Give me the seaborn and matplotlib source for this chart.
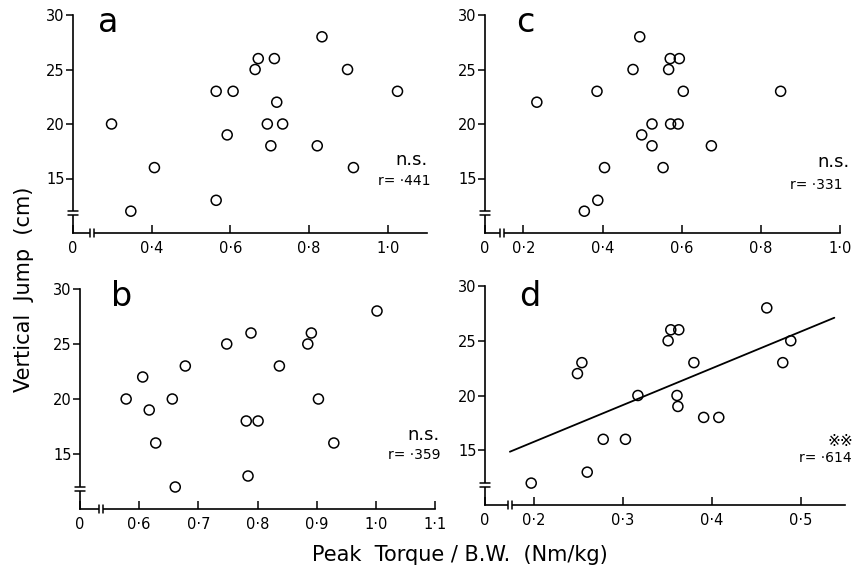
import numpy as np
import pandas as pd
import matplotlib
matplotlib.use("Agg")
import matplotlib.pyplot as plt
import seaborn as sns

# ---- data: peak torque per body weight (Nm/kg) vs vertical jump (cm) ----
a_torque = [0.298, 0.347, 0.407, 0.564, 0.564, 0.607, 0.592, 0.663, 0.671, 0.712,
            0.718, 0.694, 0.733, 0.703, 0.833, 0.821, 0.898, 0.913, 1.025]
a_jump = [20, 12, 16, 13, 23, 23, 19, 25, 26, 26, 22, 20, 20, 18, 28, 18, 25, 16, 23]

b_torque = [0.578, 0.606, 0.617, 0.628, 0.656, 0.661, 0.678, 0.748, 0.789, 0.781,
            0.801, 0.784, 0.837, 0.885, 0.891, 0.903, 0.929, 1.002]
b_jump = [20, 22, 19, 16, 20, 12, 23, 25, 26, 18, 18, 13, 23, 25, 26, 20, 16, 28]

c_torque = [0.234, 0.386, 0.354, 0.388, 0.405, 0.477, 0.494, 0.499, 0.525, 0.525,
            0.553, 0.567, 0.571, 0.594, 0.604, 0.572, 0.591, 0.675, 0.850]
c_jump = [22, 23, 12, 13, 16, 25, 28, 19, 20, 18, 16, 25, 26, 26, 23, 20, 20, 18, 23]

d_torque = [0.197, 0.249, 0.254, 0.260, 0.278, 0.303, 0.317, 0.351, 0.354, 0.363,
            0.361, 0.362, 0.380, 0.391, 0.408, 0.462, 0.480, 0.489]
d_jump = [12, 22, 23, 13, 16, 16, 20, 25, 26, 26, 20, 19, 23, 18, 18, 28, 23, 25]

panel_letters = ["a", "b", "c", "d"]
significance = ["n.s.", "n.s.", "n.s.", "※※"]
r_labels = ["r= ·441", "r= ·359", "r= ·331", "r= ·614"]

x_limits = {"a": (0.2, 1.1), "b": (0.5, 1.1), "c": (0.103, 1.0), "d": (0.145, 0.55)}
x_ticks = {"a": [0.4, 0.6, 0.8, 1.0],
           "b": [0.6, 0.7, 0.8, 0.9, 1.0, 1.1],
           "c": [0.2, 0.4, 0.6, 0.8, 1.0],
           "d": [0.2, 0.3, 0.4, 0.5]}
y_ticks = [15, 20, 25, 30]
fit_range_d = [0.173, 0.538]

frames = {
    "a": pd.DataFrame({"torque": a_torque, "jump": a_jump}),
    "b": pd.DataFrame({"torque": b_torque, "jump": b_jump}),
    "c": pd.DataFrame({"torque": c_torque, "jump": c_jump}),
    "d": pd.DataFrame({"torque": d_torque, "jump": d_jump}),
}

sns.set_theme(style="ticks")
plt.rcParams["font.family"] = ["DejaVu Sans", "Noto Sans CJK JP"]
plt.rcParams["axes.linewidth"] = 1.2
plt.rcParams["text.color"] = "black"
plt.rcParams["xtick.color"] = "black"
plt.rcParams["ytick.color"] = "black"
plt.rcParams["axes.edgecolor"] = "black"

W, H = 860, 576
fig = plt.figure(figsize=(W / 100, H / 100), dpi=100)


def px(x, y):
    return x / W, 1 - y / H


# axes boxes in pixel units: left, top, right, bottom
boxes = {"a": (73, 15, 427, 233), "c": (485, 15, 840, 233),
         "b": (80, 289, 435, 509), "d": (485, 286, 845, 505)}


def fmt(v):
    return f"{v:.1f}".replace(".", "·")


def draw_breaks(ax, pw, ph, xgap_px):
    """Double-dash break marks on both axes, sized in pixels."""
    fx = 1.0 / pw
    fy = 1.0 / ph
    kw = dict(transform=ax.transAxes, clip_on=False)
    # y-axis break: gap in the spine with two short crossing dashes
    y0, y1 = 18 * fy, 22 * fy
    ax.plot([0, 0], [y0, y1], color="white", lw=3, zorder=5, solid_capstyle="butt", **kw)
    for yy in (y0, y1):
        ax.plot([-5 * fx, 5 * fx], [yy, yy], color="black", lw=1.1, zorder=6, **kw)
    # x-axis break
    x0, x1 = (xgap_px - 2) * fx, (xgap_px + 2) * fx
    ax.plot([x0, x1], [0, 0], color="white", lw=3, zorder=5, solid_capstyle="butt", **kw)
    for xx in (x0, x1):
        ax.plot([xx, xx], [-4 * fy, 4 * fy], color="black", lw=1.1, zorder=6, **kw)


break_x = {"a": 19, "b": 21, "c": 17, "d": 25}

text_pos = {
    "a": {"letter": (108, 22), "sig": (428, 160), "r": (430, 181)},
    "c": {"letter": (525, 22), "sig": (850, 162), "r": (843, 185)},
    "b": {"letter": (122, 296), "sig": (440, 435), "r": (440, 455)},
    "d": {"letter": (530, 296), "sig": (853, 441), "r": (852, 458)},
}

for i, key in enumerate(panel_letters):
    l, t, r, b = boxes[key]
    ax = fig.add_axes([l / W, 1 - b / H, (r - l) / W, (b - t) / H])
    df = frames[key]
    sns.scatterplot(data=df, x="torque", y="jump", ax=ax, s=52,
                    facecolor="none", edgecolor="black", linewidth=1.1, zorder=3)
    if key == "d":
        slope, intercept = np.polyfit(df["torque"], df["jump"], 1)
        xs = np.array(fit_range_d)
        sns.lineplot(x=xs, y=intercept + slope * xs, ax=ax, color="black", lw=1.3)
    xmin, xmax = x_limits[key]
    ax.set_xlim(xmin, xmax)
    ax.set_ylim(10, 30)
    ax.set_xticks([xmin] + x_ticks[key])
    ax.set_xticklabels(["0"] + [fmt(v) for v in x_ticks[key]], fontsize=10.5)
    ax.set_yticks(y_ticks)
    ax.set_yticklabels([str(v) for v in y_ticks], fontsize=10.5)
    ax.tick_params(axis="x", direction="in", length=6, width=1.1, pad=6)
    ax.tick_params(axis="y", direction="out", length=5, width=1.1, pad=1)
    ax.set_xlabel("")
    ax.set_ylabel("")
    sns.despine(ax=ax)
    draw_breaks(ax, r - l, b - t, break_x[key])

    tp = text_pos[key]
    fig.text(*px(*tp["letter"]), key, fontsize=24, ha="center", va="center")
    fig.text(*px(*tp["sig"]), significance[i], fontsize=13 if key != "d" else 11,
             ha="right", va="center")
    fig.text(*px(*tp["r"]), r_labels[i], fontsize=10, ha="right", va="center")

fig.text(*px(460, 555), "Peak  Torque / B.W.  (Nm/kg)", fontsize=15, ha="center", va="center")
fig.text(*px(24, 289), "Vertical  Jump  (cm)", fontsize=15, ha="center", va="center",
         rotation=90)

fig.savefig("out.png", dpi=100)
